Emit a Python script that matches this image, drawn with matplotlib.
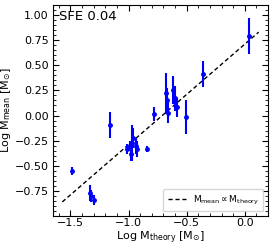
import matplotlib
matplotlib.use("Agg")
import matplotlib.pyplot as plt
import numpy as np
from matplotlib.ticker import AutoMinorLocator

# Data
log_m_theory = [-1.49, -1.33, -1.32, -1.30, -1.163,
                -1.01, -0.99, -0.97, -0.98, -0.96, -0.94, -0.93,
                -0.837, -0.78,
                -0.68, -0.665, -0.657, -0.614, -0.60, -0.585, -0.508,
                -0.357, 0.037]
log_m_mean = [-0.55, -0.77, -0.80, -0.84, -0.093,
              -0.33, -0.30, -0.27, -0.38, -0.22, -0.30, -0.33,
              -0.33, 0.017,
              0.22, 0.15, 0.03, 0.25, 0.17, 0.08, -0.017,
              0.415, 0.79]
log_m_err = [0.04, 0.08, 0.06, 0.05, 0.13,
             0.05, 0.05, 0.18, 0.07, 0.10, 0.08, 0.08,
             0.03, 0.07,
             0.20, 0.12, 0.10, 0.14, 0.12, 0.09, 0.17,
             0.13, 0.18]
fit_x = [-1.57, 0.12]
fit_offset = 0.71

fig = plt.figure(figsize=(2.74, 2.47), dpi=100)
ax = fig.add_axes([53/274, 1 - 216/247, (268-53)/274, (216-5)/247])

ax.errorbar(log_m_theory, log_m_mean, yerr=log_m_err, fmt='o', color='blue',
            ms=2.5, elinewidth=1.5, capsize=0, zorder=3)
fx = np.array(fit_x)
ax.plot(fx, fx + fit_offset, 'k--', lw=1.0, dashes=(3, 2),
        label=r'$\rm M_{mean} \propto M_{theory}$', zorder=2)

ax.set_xlim(-1.65, 0.2)
ax.set_ylim(-1.0, 1.1)
ax.set_xticks([-1.5, -1.0, -0.5, 0.0])
ax.set_yticks([-0.75, -0.5, -0.25, 0.0, 0.25, 0.5, 0.75, 1.0])
ax.xaxis.set_minor_locator(AutoMinorLocator(5))
ax.yaxis.set_minor_locator(AutoMinorLocator(5))
ax.tick_params(which='both', direction='in', top=True, right=True, labelsize=8)
ax.tick_params(which='major', length=4)
ax.tick_params(which='minor', length=2)
ax.tick_params(axis='x', which='both', pad=1.5)
ax.tick_params(axis='y', which='both', pad=3)

ax.set_xlabel(r'Log M$_{\rm theory}$ [M$_{\odot}$]', fontsize=8, labelpad=1)
ax.set_ylabel(r'Log M$_{\rm mean}$ [M$_{\odot}$]', fontsize=8, labelpad=1)
ax.text(0.03, 0.975, 'SFE 0.04', transform=ax.transAxes, fontsize=9.5,
        va='top', ha='left')
ax.legend(loc='lower right', fontsize=6.5, handlelength=2.0, borderpad=0.5)

fig.savefig('out.png', dpi=100)
